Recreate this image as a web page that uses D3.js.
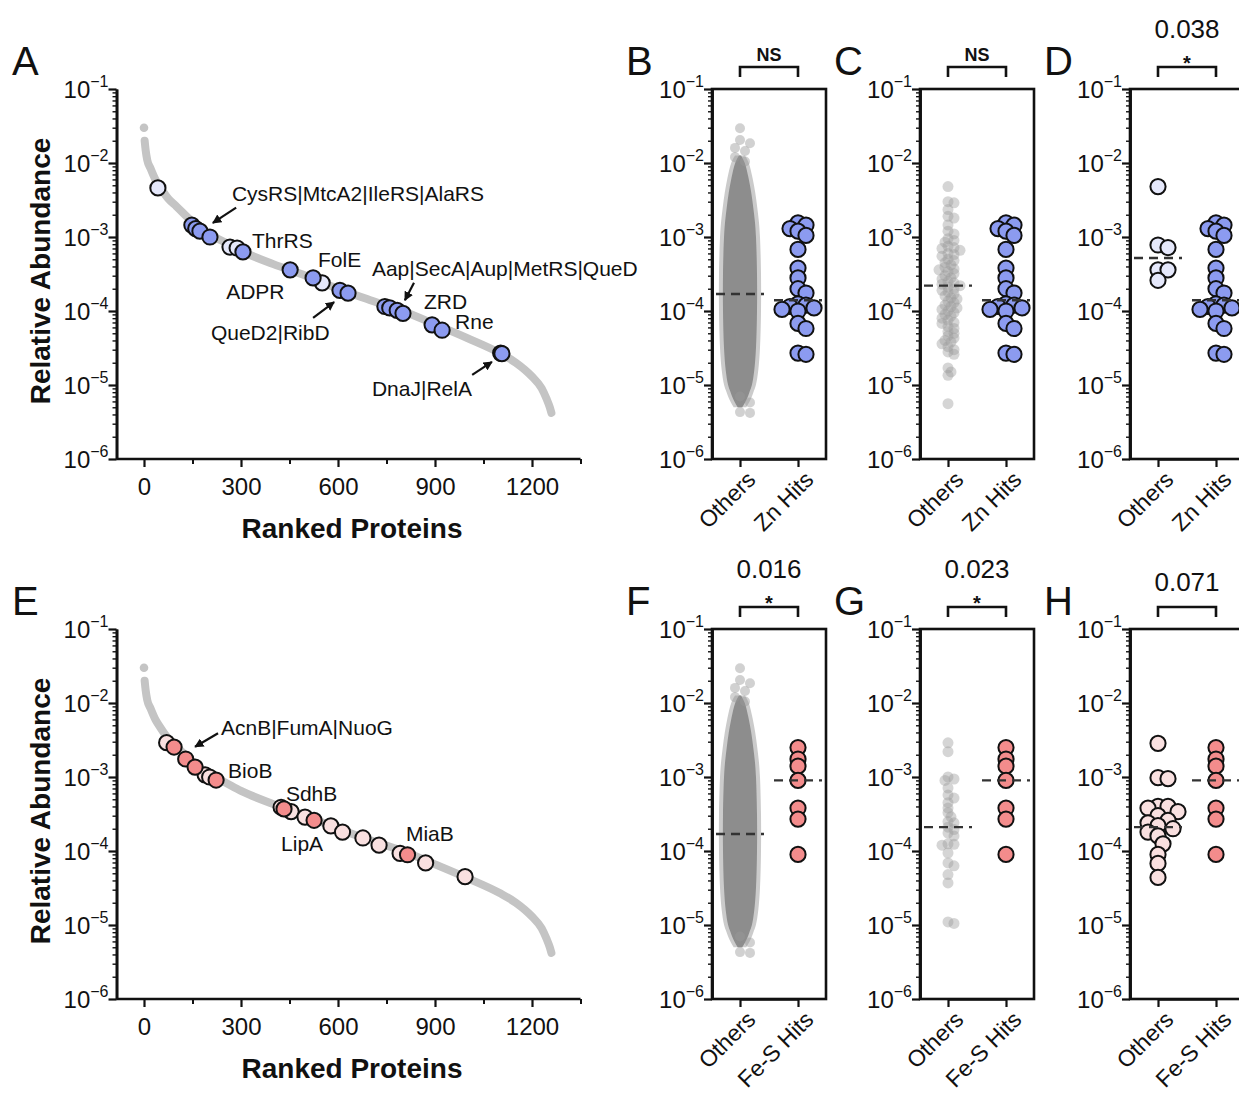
<!DOCTYPE html>
<html><head><meta charset="utf-8">
<script src="https://cdn.jsdelivr.net/npm/d3@7"></script>
<style>
body{margin:0;background:#fff}
svg{display:block}
text{font-family:Arial,"Liberation Sans",Helvetica,sans-serif;fill:#111}
</style>
</head><body>
<svg id="chart" width="1239" height="1094"></svg>
<script>
// ---------------- DATA ----------------
const decadeExponents = [-1, -2, -3, -4, -5, -6];
const rankTicks = [0, 300, 600, 900, 1200];
const rankMinorTicks = [150, 450, 750, 1050, 1350];

// ranked abundance curve (rank, relative abundance)
const curveRanks  = [2, 5, 10, 20, 35, 50, 75, 100, 150, 200, 250, 300, 400, 500, 600, 700, 800, 900, 1000, 1100, 1150, 1200, 1230, 1245, 1255, 1260];
const curveValues = [0.02, 0.015, 0.011, 0.0085, 0.006, 0.0047, 0.0033, 0.0026, 0.0016, 0.0011, 0.00085, 0.00065, 0.00043, 0.0003, 0.0002, 0.00014, 0.0001, 0.000066, 0.000043, 0.000027, 0.00002, 0.000013, 0.000009, 0.0000065, 0.000005, 0.0000042];
const curveTopRank = [0];
const curveTopValue = [0.03];

// Panel A highlighted proteins
const znLightRanks  = [43, 266, 288, 551];
const znLightValues = [4.6e-3, 7.3e-4, 7.1e-4, 2.4e-4];
const znHitRanks  = [148, 160, 173, 204, 306, 452, 523, 606, 631, 745, 760, 783, 801, 891, 922, 1103, 1107];
const znHitValues = [1.45e-3, 1.3e-3, 1.2e-3, 1.0e-3, 6.3e-4, 3.6e-4, 2.8e-4, 1.9e-4, 1.74e-4, 1.15e-4, 1.1e-4, 1.02e-4, 9.3e-5, 6.5e-5, 5.5e-5, 2.7e-5, 2.65e-5];

// Panel E highlighted proteins
const feLightRanks  = [70, 189, 203, 424, 455, 498, 578, 614, 677, 727, 792, 871, 993];
const feLightValues = [2.91e-3, 1.07e-3, 1.0e-3, 3.9e-4, 3.4e-4, 2.87e-4, 2.18e-4, 1.8e-4, 1.5e-4, 1.2e-4, 9.3e-5, 6.9e-5, 4.5e-5];
const feHitRanks  = [93, 129, 158, 223, 433, 526, 815];
const feHitValues = [2.54e-3, 1.75e-3, 1.36e-3, 9.1e-4, 3.7e-4, 2.6e-4, 8.9e-5];

// Annotations: label anchor (rank, value) and optional arrow (from -> to)
const annotationsA = [
  {text: "CysRS|MtcA2|IleRS|AlaRS", rank: 272, value: 3.9e-3, arrow: [285, 2.5e-3, 213, 1.55e-3]},
  {text: "ThrRS", rank: 334, value: 9.1e-4},
  {text: "FolE", rank: 538, value: 5.0e-4},
  {text: "ADPR", rank: 254, value: 1.86e-4},
  {text: "QueD2|RibD", rank: 207, value: 5.2e-5, arrow: [523, 8.1e-5, 588, 1.32e-4]},
  {text: "Aap|SecA|Aup|MetRS|QueD", rank: 705, value: 3.8e-4, arrow: [835, 2.4e-4, 807, 1.4e-4]},
  {text: "ZRD", rank: 866, value: 1.37e-4},
  {text: "Rne", rank: 962, value: 7.3e-5},
  {text: "DnaJ|RelA", rank: 705, value: 9.1e-6, arrow: [1015, 1.37e-5, 1076, 2.05e-5]}
];
const annotationsE = [
  {text: "AcnB|FumA|NuoG", rank: 238, value: 4.8e-3, arrow: [229, 3.9e-3, 158, 2.56e-3]},
  {text: "BioB", rank: 260, value: 1.24e-3},
  {text: "SdhB", rank: 439, value: 6.1e-4},
  {text: "LipA", rank: 424, value: 1.29e-4},
  {text: "MiaB", rank: 810, value: 1.73e-4}
];

// Scatter panels
const znHitsValues = [1.55e-3, 1.45e-3, 1.3e-3, 1.2e-3, 1.05e-3, 6.8e-4, 3.8e-4, 2.8e-4, 2.0e-4, 1.75e-4, 1.25e-4, 1.2e-4, 1.15e-4, 1.1e-4, 1.05e-4, 1.0e-4, 6.8e-5, 5.8e-5, 2.7e-5, 2.6e-5];
const feHitsValues = [2.5e-3, 1.75e-3, 1.4e-3, 9.0e-4, 3.8e-4, 2.7e-4, 9.0e-5];

// whole-proteome "Others" column (B, F): relative density by log10 abundance
const denseLog10   = [-1.9, -2.0, -2.2, -2.4, -2.6, -2.8, -3.0, -3.5, -4.0, -4.5, -4.8, -5.0, -5.1, -5.2, -5.3];
const denseCounts  = [6, 28, 50, 66, 78, 88, 94, 100, 100, 94, 84, 70, 55, 38, 14];
const denseOutliers = [2.95e-2, 2.05e-2, 1.85e-2, 1.6e-2, 1.45e-2, 1.2e-2, 1.05e-2, 7.0e-6, 5.8e-6, 4.3e-6, 4.2e-6];

const cOthersValues = [4.8e-3, 3.0e-3, 2.9e-3, 2.35e-3, 1.9e-3, 1.8e-3, 1.45e-3, 1.2e-3, 1.1e-3, 9.5e-4, 9.0e-4, 8.5e-4, 7.5e-4, 7.2e-4, 7.0e-4, 6.6e-4, 6.0e-4, 5.8e-4, 5.5e-4, 5.0e-4, 4.8e-4, 4.5e-4, 4.2e-4, 3.9e-4, 3.7e-4, 3.6e-4, 3.4e-4, 3.2e-4, 3.0e-4, 2.8e-4, 2.7e-4, 2.5e-4, 2.4e-4, 2.3e-4, 2.2e-4, 2.1e-4, 2.0e-4, 1.9e-4, 1.8e-4, 1.7e-4, 1.6e-4, 1.5e-4, 1.45e-4, 1.35e-4, 1.3e-4, 1.2e-4, 1.15e-4, 1.1e-4, 1.05e-4, 1.0e-4, 9.5e-5, 9.0e-5, 8.5e-5, 8.0e-5, 7.5e-5, 7.0e-5, 6.8e-5, 6.2e-5, 5.8e-5, 5.3e-5, 5.0e-5, 4.6e-5, 4.3e-5, 4.0e-5, 3.8e-5, 3.6e-5, 3.3e-5, 3.0e-5, 2.8e-5, 2.6e-5, 1.7e-5, 1.5e-5, 1.35e-5, 5.6e-6];
const dOthersValues = [4.8e-3, 7.8e-4, 7.2e-4, 3.6e-4, 3.6e-4, 2.6e-4];
const gOthersValues = [2.9e-3, 2.2e-3, 1.0e-3, 9.4e-4, 9.0e-4, 7.1e-4, 5.7e-4, 5.2e-4, 4.5e-4, 3.8e-4, 3.3e-4, 2.9e-4, 2.5e-4, 2.4e-4, 2.1e-4, 1.95e-4, 1.75e-4, 1.6e-4, 1.25e-4, 1.23e-4, 1.2e-4, 9.4e-5, 6.9e-5, 6.3e-5, 4.8e-5, 3.7e-5, 1.1e-5, 1.05e-5];
const hOthersValues = [2.85e-3, 9.8e-4, 9.5e-4, 4.0e-4, 4.0e-4, 3.8e-4, 3.4e-4, 3.0e-4, 2.6e-4, 2.4e-4, 2.2e-4, 2.0e-4, 1.8e-4, 1.6e-4, 1.25e-4, 9.0e-5, 6.8e-5, 4.4e-5];

const medianB = [1.7e-4, 1.4e-4], medianC = [2.2e-4, 1.4e-4], medianD = [5.2e-4, 1.4e-4];
const medianF = [1.7e-4, 9.0e-4], medianG = [2.1e-4, 9.0e-4], medianH = [2.1e-4, 9.0e-4];
const pB = "", pC = "", pD = "0.038", pF = "0.016", pG = "0.023", pH = "0.071";
const sigB = "NS", sigC = "NS", sigD = "*", sigF = "*", sigG = "*", sigH = "";

// ---------------- DRAWING ----------------
const svg = d3.select("#chart");
svg.append("rect").attr("width", 1239).attr("height", 1094).attr("fill", "#fff");

const BLUE = "#8c9bf0", BLUE_LIGHT = "#e5e8fb", RED = "#f38c8c", RED_LIGHT = "#f9e0e0";
const CURVE_GRAY = "#c4c4c4";
const rows = [{top: 89, bottom: 459}, {top: 629, bottom: 999}];
const yScales = rows.map(r => d3.scaleLog().domain([1e-6, 1e-1]).range([r.bottom, r.top]));

svg.append("defs").append("marker").attr("id", "arr").attr("viewBox", "0 0 10 10")
  .attr("refX", 9).attr("refY", 5).attr("markerWidth", 4.2).attr("markerHeight", 4.2)
  .attr("orient", "auto").append("path").attr("d", "M0,0 L10,5 L0,10 Z").attr("fill", "#111");

const minorVals = [];
decadeExponents.slice(1).forEach(e => { for (let m = 2; m <= 9; m++) minorVals.push(m * Math.pow(10, e)); });

function styleAxis(g, w) {
  g.selectAll("path.domain").attr("stroke", "#111").attr("stroke-width", 2.6);
  g.selectAll(".tick line").attr("stroke", "#111").attr("stroke-width", w);
}

function drawYAxis(L, y) {
  const g1 = svg.append("g").attr("transform", `translate(${L},0)`)
    .call(d3.axisLeft(y).tickValues(minorVals).tickSize(4).tickSizeOuter(0).tickFormat(""));
  styleAxis(g1, 1.4);
  const g2 = svg.append("g").attr("transform", `translate(${L},0)`)
    .call(d3.axisLeft(y).tickValues(decadeExponents.map(e => Math.pow(10, e))).tickSize(8).tickSizeOuter(0).tickFormat(""));
  styleAxis(g2, 2.2);
  decadeExponents.forEach(e => {
    const t = svg.append("text").attr("x", L - 8).attr("y", y(Math.pow(10, e)) + 9)
      .attr("text-anchor", "end").style("font-size", "24px");
    t.append("tspan").text("10");
    t.append("tspan").attr("dy", -11).style("font-size", "16px").text("\u2212" + (-e));
  });
}

function letter(ch, x, y) {
  svg.append("text").attr("x", x).attr("y", y).style("font-size", "40px").text(ch);
}

// ---- Ranked panels (A, E)
const xRank = d3.scaleLinear().domain([0, 1200]).range([144, 532]);
const rankAxisLeft = -85, rankAxisRight = 1350;

function rankPanel(rowIdx, lightR, lightV, hitR, hitV, hitColor, lightColor, annotations, ch) {
  const y = yScales[rowIdx], r = rows[rowIdx];
  const L = xRank(rankAxisLeft);
  letter(ch, 12, r.top - 14);
  const gx = svg.append("g").attr("transform", `translate(0,${r.bottom})`);
  const ax1 = gx.append("g").call(d3.axisBottom(xRank).tickValues(rankMinorTicks).tickSize(5).tickSizeOuter(0).tickFormat(""));
  styleAxis(ax1, 2);
  ax1.select("path.domain").remove();
  const ax2 = gx.append("g").call(d3.axisBottom(xRank).tickValues(rankTicks).tickSize(8).tickSizeOuter(0).tickFormat(d3.format("d")));
  styleAxis(ax2, 2.2);
  ax2.select("path.domain").remove();
  ax2.selectAll(".tick text").style("font-size", "24px").attr("fill", "#111").attr("dy", "1.05em")
    .style("font-family", 'Arial,"Liberation Sans",sans-serif');
  gx.append("line").attr("x1", L).attr("x2", xRank(rankAxisRight)).attr("stroke", "#111").attr("stroke-width", 2.6);
  drawYAxis(L, y);
  svg.append("text").attr("x", 352).attr("y", r.bottom + 79).attr("text-anchor", "middle")
    .style("font-size", "28px").style("font-weight", "bold").text("Ranked Proteins");
  svg.append("text").attr("transform", `translate(50,${(r.top + r.bottom) / 2 - 3}) rotate(-90)`)
    .attr("text-anchor", "middle").style("font-size", "28px").style("font-weight", "bold").text("Relative Abundance");
  const pts = curveRanks.map((k, i) => [k, curveValues[i]]);
  svg.append("path").datum(pts)
    .attr("d", d3.line().x(d => xRank(d[0])).y(d => y(d[1])).curve(d3.curveMonotoneX))
    .attr("fill", "none").attr("stroke", CURVE_GRAY).attr("stroke-width", 8).attr("stroke-linecap", "round");
  svg.selectAll(null).data(curveTopRank).enter().append("circle")
    .attr("cx", d => xRank(d)).attr("cy", (d, i) => y(curveTopValue[i])).attr("r", 4.3).attr("fill", CURVE_GRAY);
  const circ = (ranks, vals, fill) => svg.append("g").selectAll("circle").data(ranks).enter().append("circle")
    .attr("cx", d => xRank(d)).attr("cy", (d, i) => y(vals[i])).attr("r", 7.6)
    .attr("fill", fill).attr("stroke", "#111").attr("stroke-width", 2);
  circ(lightR, lightV, lightColor);
  circ(hitR, hitV, hitColor);
  annotations.forEach(a => {
    svg.append("text").attr("x", xRank(a.rank)).attr("y", y(a.value) + 8).style("font-size", "21px").text(a.text);
    if (a.arrow) {
      svg.append("line").attr("x1", xRank(a.arrow[0])).attr("y1", y(a.arrow[1]))
        .attr("x2", xRank(a.arrow[2])).attr("y2", y(a.arrow[3]))
        .attr("stroke", "#111").attr("stroke-width", 2.2).attr("marker-end", "url(#arr)");
    }
  });
}

rankPanel(0, znLightRanks, znLightValues, znHitRanks, znHitValues, BLUE, BLUE_LIGHT, annotationsA, "A");
rankPanel(1, feLightRanks, feLightValues, feHitRanks, feHitValues, RED, RED_LIGHT, annotationsE, "E");

// ---- Beeswarm helper (deterministic)
function swarm(values, y, cx, minDist, step) {
  const pts = values.map(v => ({v, y: y(v)})).sort((a, b) => a.y - b.y);
  const placed = [];
  pts.forEach(p => {
    let xx = cx;
    for (let k = 0; k < 60; k++) {
      const off = k === 0 ? 0 : (k % 2 ? 1 : -1) * Math.ceil(k / 2) * step;
      const x = cx + off;
      if (placed.every(q => (q.x - x) ** 2 + (q.y - p.y) ** 2 >= minDist * minDist)) { xx = x; break; }
    }
    p.x = xx; placed.push(p);
  });
  return pts;
}

// ---- Scatter panels
const PW = 114;
function scatterPanel(cfg) {
  const r = rows[cfg.row], y = yScales[cfg.row], L = cfg.L;
  const cats = ["Others", cfg.hitLabel];
  const xCat = d3.scalePoint().domain(cats).range([L + 28, L + 86]);
  letter(cfg.ch, L - 86, r.top - 14);
  svg.append("rect").attr("x", L).attr("y", r.top).attr("width", PW).attr("height", r.bottom - r.top)
    .attr("fill", "none").attr("stroke", "#111").attr("stroke-width", 2.6);
  drawYAxis(L, y);
  const gx = svg.append("g").attr("transform", `translate(0,${r.bottom})`)
    .call(d3.axisBottom(xCat).tickSize(8).tickSizeOuter(0).tickFormat(""));
  styleAxis(gx, 2.2);
  cats.forEach(c => {
    svg.append("text").attr("transform", `translate(${xCat(c) + 17},${r.bottom + 22}) rotate(-45)`)
      .attr("text-anchor", "end").style("font-size", "23px").text(c);
  });
  const cO = xCat("Others"), cH = xCat(cfg.hitLabel);
  if (cfg.othersType === "dense") {
    const wScale = d3.scaleLinear().domain([0, 100]).range([0, 17]);
    const dd = denseLog10.map((l, i) => ({l, c: denseCounts[i]}));
    const ar = (pad) => d3.area().y(d => y(Math.pow(10, d.l)))
      .x0(d => cO - wScale(d.c) - pad).x1(d => cO + wScale(d.c) + pad).curve(d3.curveCatmullRom);
    svg.append("path").datum(dd).attr("d", ar(4)).attr("fill", "#cbcbcb");
    svg.append("path").datum(dd).attr("d", ar(0)).attr("fill", "#8d8d8d");
    swarm(denseOutliers, y, cO, 8, 5).forEach(p => {
      svg.append("circle").attr("cx", p.x).attr("cy", p.y).attr("r", 5).attr("fill", "#9a9a9a").attr("fill-opacity", 0.45);
    });
  } else if (cfg.othersType === "dots") {
    swarm(cfg.others, y, cO, 4.5, 3).forEach(p => {
      svg.append("circle").attr("cx", p.x).attr("cy", p.y).attr("r", 5.5).attr("fill", "#9a9a9a").attr("fill-opacity", 0.42);
    });
  } else {
    swarm(cfg.others, y, cO, 9, 5).forEach(p => {
      svg.append("circle").attr("cx", p.x).attr("cy", p.y).attr("r", 7.6)
        .attr("fill", cfg.lightColor).attr("stroke", "#111").attr("stroke-width", 2);
    });
  }
  swarm(cfg.hits, y, cH, 7, 4).forEach(p => {
    svg.append("circle").attr("cx", p.x).attr("cy", p.y).attr("r", 7.6)
      .attr("fill", cfg.hitColor).attr("stroke", "#111").attr("stroke-width", 2);
  });
  [cO, cH].forEach((c, i) => {
    svg.append("line").attr("x1", c - 24).attr("x2", c + 24).attr("y1", y(cfg.medians[i])).attr("y2", y(cfg.medians[i]))
      .attr("stroke", "#333").attr("stroke-width", 2.4).attr("stroke-dasharray", "9,6");
  });
  const by = r.top - 22;
  svg.append("path").attr("d", `M${cO},${by + 10}V${by}H${cH}V${by + 10}`)
    .attr("fill", "none").attr("stroke", "#111").attr("stroke-width", 2.6);
  const mid = (cO + cH) / 2;
  if (cfg.sig === "NS") {
    svg.append("text").attr("x", mid).attr("y", by - 6).attr("text-anchor", "middle")
      .style("font-size", "18px").style("font-weight", "bold").text("NS");
  } else if (cfg.sig === "*") {
    svg.append("text").attr("x", mid).attr("y", by + 3).attr("text-anchor", "middle")
      .style("font-size", "20px").style("font-weight", "bold").text("*");
  }
  if (cfg.p) {
    svg.append("text").attr("x", mid).attr("y", cfg.sig ? by - 29 : by - 16).attr("text-anchor", "middle")
      .style("font-size", "26px").text(cfg.p);
  }
}

scatterPanel({row: 0, L: 712, ch: "B", hitLabel: "Zn Hits", othersType: "dense", hits: znHitsValues, hitColor: BLUE, medians: medianB, p: pB, sig: sigB});
scatterPanel({row: 0, L: 920, ch: "C", hitLabel: "Zn Hits", othersType: "dots", others: cOthersValues, hits: znHitsValues, hitColor: BLUE, medians: medianC, p: pC, sig: sigC});
scatterPanel({row: 0, L: 1130, ch: "D", hitLabel: "Zn Hits", othersType: "circles", others: dOthersValues, lightColor: BLUE_LIGHT, hits: znHitsValues, hitColor: BLUE, medians: medianD, p: pD, sig: sigD});
scatterPanel({row: 1, L: 712, ch: "F", hitLabel: "Fe-S Hits", othersType: "dense", hits: feHitsValues, hitColor: RED, medians: medianF, p: pF, sig: sigF});
scatterPanel({row: 1, L: 920, ch: "G", hitLabel: "Fe-S Hits", othersType: "dots", others: gOthersValues, hits: feHitsValues, hitColor: RED, medians: medianG, p: pG, sig: sigG});
scatterPanel({row: 1, L: 1130, ch: "H", hitLabel: "Fe-S Hits", othersType: "circles", others: hOthersValues, lightColor: RED_LIGHT, hits: feHitsValues, hitColor: RED, medians: medianH, p: pH, sig: sigH});
</script>
</body></html>
